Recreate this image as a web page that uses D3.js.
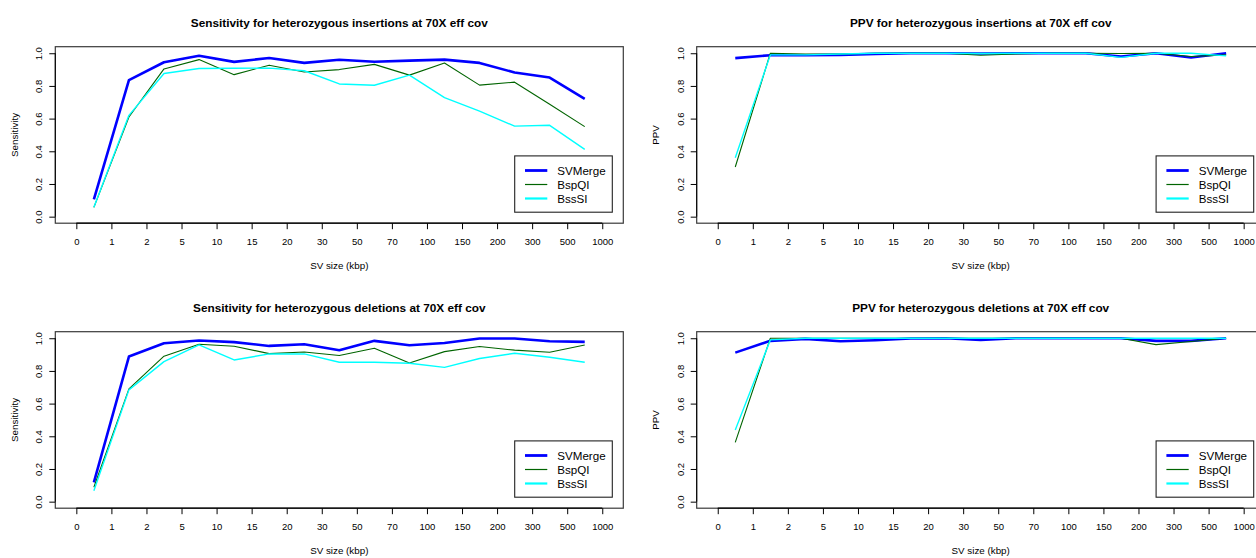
<!DOCTYPE html>
<html>
<head>
<meta charset="utf-8">
<script src="https://cdn.jsdelivr.net/npm/d3@7"></script>
<style>
  html, body { margin: 0; padding: 0; background: #fff; }
  svg { display: block; }
  text { font-family: "Liberation Sans", Arial, Helvetica, sans-serif; fill: #000; }
</style>
</head>
<body>
<svg id="chart" width="1256" height="558"></svg>
<script>
// ---- data ----
const sizeLabels = ["0","1","2","5","10","15","20","30","50","70","100","150","200","300","500","1000"];
const seriesNames = ["SVMerge", "BspQI", "BssSI"];

const insSensSVMerge = [0.106,0.835,0.945,0.985,0.947,0.971,0.941,0.960,0.948,0.955,0.961,0.941,0.882,0.851,0.721];
const insSensBspQI   = [0.057,0.610,0.904,0.961,0.869,0.927,0.885,0.900,0.932,0.866,0.940,0.805,0.823,0.688,0.551];
const insSensBssSI   = [0.057,0.620,0.876,0.907,0.908,0.909,0.893,0.812,0.804,0.866,0.728,0.646,0.554,0.559,0.412];

const insPpvSVMerge  = [0.970,0.988,0.988,0.990,0.996,1.000,1.000,0.998,1.000,1.000,1.000,0.980,1.000,0.974,1.000];
const insPpvBspQI    = [0.304,1.000,0.995,0.995,1.000,1.000,1.000,0.988,0.995,1.000,1.000,0.998,1.000,0.980,0.990];
const insPpvBssSI    = [0.361,0.990,0.990,0.995,1.000,1.000,1.000,0.998,1.000,1.000,1.000,0.975,1.000,1.000,0.984];

const delSensSVMerge = [0.118,0.888,0.969,0.986,0.976,0.953,0.963,0.927,0.984,0.957,0.971,0.998,0.998,0.982,0.978];
const delSensBspQI   = [0.088,0.690,0.890,0.963,0.951,0.906,0.916,0.894,0.939,0.849,0.918,0.949,0.927,0.914,0.959];
const delSensBssSI   = [0.067,0.684,0.857,0.959,0.867,0.904,0.904,0.853,0.853,0.847,0.822,0.876,0.908,0.884,0.853];

const delPpvSVMerge  = [0.912,0.984,0.996,0.982,0.988,0.998,1.000,0.990,1.000,1.000,1.000,1.000,0.984,0.984,1.000];
const delPpvBspQI    = [0.363,1.000,1.000,1.000,1.000,1.000,1.000,1.000,1.000,1.000,1.000,1.000,0.961,0.980,1.000];
const delPpvBssSI    = [0.439,0.990,1.000,1.000,1.000,1.000,1.000,1.000,1.000,1.000,1.000,1.000,1.000,1.000,1.000];

const yTicks = [0, 0.2, 0.4, 0.6, 0.8, 1.0];

// ---- styles ----
const colors = { SVMerge: "#0000FF", BspQI: "#006400", BssSI: "#00FFFF" };
const widths = { SVMerge: 2.6, BspQI: 1.1, BssSI: 1.4 };
const legendWidths = { SVMerge: 2.8, BspQI: 1.2, BssSI: 2.2 };

const panels = [
  { title: "Sensitivity for heterozygous insertions at 70X eff cov", ylab: "Sensitivity",
    series: [insSensSVMerge, insSensBspQI, insSensBssSI], x0: 55.3, y0: 46.7 },
  { title: "PPV for heterozygous insertions at 70X eff cov", ylab: "PPV",
    series: [insPpvSVMerge, insPpvBspQI, insPpvBssSI], x0: 696.7, y0: 46.7 },
  { title: "Sensitivity for heterozygous deletions at 70X eff cov", ylab: "Sensitivity",
    series: [delSensSVMerge, delSensBspQI, delSensBssSI], x0: 55.3, y0: 331.7 },
  { title: "PPV for heterozygous deletions at 70X eff cov", ylab: "PPV",
    series: [delPpvSVMerge, delPpvBspQI, delPpvBssSI], x0: 696.7, y0: 331.7 }
];

const boxW = 568, boxH = 176.5;
const svg = d3.select("#chart");

panels.forEach(p => {
  const g = svg.append("g");
  const x = d3.scaleLinear().domain([-0.6, 15.6]).range([p.x0, p.x0 + boxW]);
  const y = d3.scaleLinear().domain([-0.04, 1.04]).range([p.y0 + boxH, p.y0]);
  const cx = p.x0 + boxW / 2;

  // title
  g.append("text").attr("x", cx).attr("y", p.y0 - 23.4).attr("dy", "0.35em")
    .attr("text-anchor", "middle").style("font-weight", "bold").style("font-size", "11.8px")
    .text(p.title);

  // lines
  const line = d3.line().x((d, i) => x(i + 0.5)).y(d => y(d));
  // draw order: SVMerge, BspQI, BssSI
  p.series.forEach((vals, k) => {
    const name = seriesNames[k];
    g.append("path").datum(vals).attr("d", line)
      .attr("fill", "none").attr("stroke", colors[name]).attr("stroke-width", widths[name])
      .attr("stroke-linejoin", "round");
  });

  // box
  g.append("rect").attr("x", p.x0).attr("y", p.y0).attr("width", boxW).attr("height", boxH)
    .attr("fill", "none").attr("stroke", "#3a3a3a").attr("stroke-width", 1.2);

  // x axis
  const xAxis = d3.axisBottom(x).tickValues(d3.range(0, 16)).tickFormat(i => sizeLabels[i])
    .tickSize(6).tickSizeOuter(0);
  const xg = g.append("g").attr("transform", `translate(0,${p.y0 + boxH})`).call(xAxis);
  xg.select(".domain").attr("d", `M${x(0)},0H${x(15)}`).attr("stroke", "#000").attr("stroke-width", 1.2);
  xg.selectAll(".tick line").attr("stroke", "#000");
  xg.selectAll(".tick text").attr("y", 0).attr("dy", null)
    .attr("transform", "translate(0,18.5)").attr("dy", "0.35em")
    .style("font-size", "9.5px").style("font-family", "Liberation Sans, Arial, sans-serif").attr("fill", "#000");

  // y axis
  const yAxis = d3.axisLeft(y).tickValues(yTicks).tickFormat(d3.format(".1f"))
    .tickSize(6).tickSizeOuter(0);
  const yg = g.append("g").attr("transform", `translate(${p.x0},0)`).call(yAxis);
  yg.select(".domain").attr("d", `M0,${y(0)}V${y(1)}`).attr("stroke", "#000");
  yg.selectAll(".tick line").attr("stroke", "#000");
  yg.selectAll(".tick text")
    .attr("x", null).attr("dy", null)
    .attr("text-anchor", "middle")
    .attr("transform", "translate(-16.5,0) rotate(-90)")
    .attr("dy", "0.35em")
    .style("font-size", "9.5px").style("font-family", "Liberation Sans, Arial, sans-serif").attr("fill", "#000");

  // axis labels
  g.append("text").attr("x", cx).attr("y", p.y0 + boxH + 42.5).attr("dy", "0.35em")
    .attr("text-anchor", "middle").style("font-size", "9.8px").text("SV size (kbp)");
  g.append("text").attr("transform", `translate(${p.x0 - 41},${p.y0 + boxH / 2}) rotate(-90)`)
    .attr("dy", "0.35em").attr("text-anchor", "middle").style("font-size", "9.8px").text(p.ylab);

  // legend
  const lw = 97.6, lh = 56.3;
  const lx = p.x0 + boxW - 11 - lw, ly = p.y0 + boxH - 11 - lh;
  const lg = g.append("g").attr("transform", `translate(${lx},${ly})`);
  lg.append("rect").attr("width", lw).attr("height", lh).attr("fill", "#fff")
    .attr("stroke", "#222").attr("stroke-width", 1.1);
  seriesNames.forEach((name, k) => {
    const ry = 14.6 + k * 14;
    lg.append("line").attr("x1", 10.3).attr("x2", 32.6).attr("y1", ry).attr("y2", ry)
      .attr("stroke", colors[name]).attr("stroke-width", legendWidths[name]);
    lg.append("text").attr("x", 42.6).attr("y", ry).attr("dy", "0.35em")
      .style("font-size", "11.6px").text(name);
  });
});
</script>
</body>
</html>
